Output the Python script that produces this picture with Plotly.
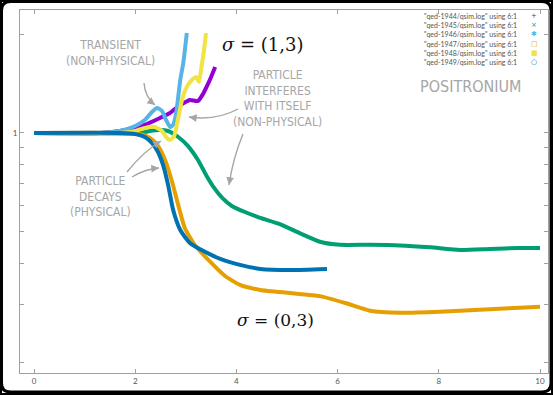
import math
import plotly.graph_objects as go

# ---------------- data ----------------
series_names = ['"qed-1944/qsim.log" using 6:1', '"qed-1945/qsim.log" using 6:1',
                '"qed-1946/qsim.log" using 6:1', '"qed-1947/qsim.log" using 6:1',
                '"qed-1948/qsim.log" using 6:1', '"qed-1949/qsim.log" using 6:1']
series_colors = ["#9400d3", "#009e73", "#56b4e9", "#e69f00", "#f0e442", "#0072b2"]
legend_symbols = ["+", "×", "✱", "□", "■", "○"]

x1944 = [0, 1.30, 1.70, 1.96, 2.23, 2.49, 2.69, 2.83, 2.96, 3.08, 3.24, 3.34, 3.42, 3.50, 3.58]
y1944 = [1, 1, 1.014, 1.036, 1.065, 1.111, 1.151, 1.200, 1.234, 1.261, 1.252, 1.315, 1.391, 1.482, 1.589]

x1945 = [0, 2.09, 2.29, 2.49, 2.65, 2.85, 3.04, 3.24, 3.40, 3.56, 3.72, 3.91, 4.17, 4.47, 4.86,
         5.26, 5.65, 6.05, 6.64, 7.23, 7.83, 8.42, 9.01, 9.60, 10.0]
y1945 = [1, 1, 1.014, 1.021, 1.014, 0.972, 0.913, 0.827, 0.745, 0.680, 0.634, 0.599, 0.574, 0.551, 0.527,
         0.494, 0.466, 0.456, 0.456, 0.454, 0.448, 0.440, 0.443, 0.446, 0.446]

x1946 = [0, 1.30, 1.70, 2.00, 2.19, 2.33, 2.43, 2.53, 2.61, 2.69, 2.75, 2.81, 2.89, 2.95, 3.02]
y1946 = [1, 1, 1.014, 1.050, 1.095, 1.159, 1.192, 1.167, 1.095, 1.043, 1.058, 1.151, 1.451, 1.634, 2.018]

x1947 = [0, 1.70, 2.09, 2.29, 2.45, 2.59, 2.73, 2.85, 2.98, 3.18, 3.48, 3.77, 4.07, 4.47, 5.06,
         5.65, 6.15, 6.64, 7.23, 8.02, 8.81, 9.60, 10.0]
y1947 = [1, 1, 0.993, 0.965, 0.913, 0.827, 0.709, 0.603, 0.513, 0.455, 0.405, 0.367, 0.344, 0.332, 0.325,
         0.318, 0.303, 0.287, 0.283, 0.285, 0.289, 0.293, 0.295]

x1948 = [0, 1.70, 2.00, 2.19, 2.39, 2.53, 2.61, 2.69, 2.77, 2.85, 2.94, 3.04, 3.14, 3.20, 3.26, 3.30, 3.36, 3.40]
y1948 = [1, 1, 1.014, 1.036, 1.043, 1.014, 0.972, 0.952, 0.979, 1.111, 1.288, 1.400, 1.461, 1.482, 1.431,
         1.556, 1.791, 2.016]

x1949 = [0, 1.70, 2.00, 2.19, 2.33, 2.45, 2.55, 2.65, 2.75, 2.89, 3.08, 3.38, 3.68, 4.07, 4.47, 5.06, 5.79]
y1949 = [1, 1, 0.993, 0.972, 0.932, 0.875, 0.799, 0.694, 0.582, 0.506, 0.462, 0.434, 0.413, 0.396, 0.385,
         0.382, 0.385]

xs = [x1944, x1945, x1946, x1947, x1948, x1949]
ys = [y1944, y1945, y1946, y1947, y1948, y1949]

x_ticks = [0, 2, 4, 6, 8, 10]
y_ticks = [0.2, 0.3, 0.4, 0.5, 0.6, 0.7, 0.8, 0.9, 1, 2]
y_ticktext = ["", "", "", "", "", "", "", "", "1", ""]

# ---------------- layout helpers ----------------
W, H = 553, 395
L, R, T, B = 20, 5, 10, 22
PW, PH = W - L - R, H - T - B


def px(x):
    return (x - L) / PW


def py(y):
    return (H - B - y) / PH


fig = go.Figure()
for xv, yv, c, n in zip(xs, ys, series_colors, series_names):
    fig.add_trace(go.Scatter(x=xv, y=yv, mode="lines", name=n,
                             line=dict(color=c, width=4, shape="spline", smoothing=0.55),
                             showlegend=False, hoverinfo="skip"))

gray = "#a6a6a6"
hand = "Liberation Sans Narrow, DejaVu Sans Condensed, Arial Narrow, sans-serif"
ann = []
shapes = []

# legend (gnuplot style: text right-aligned, symbol right)
leg_y = [16, 25.3, 34.5, 44, 53.3, 62.5]
for n, s, c, yy in zip(series_names, legend_symbols, series_colors, leg_y):
    ann.append(dict(xref="paper", yref="paper", x=px(519), y=py(yy), text=n, showarrow=False,
                    xanchor="right", yanchor="middle", font=dict(size=7, color="#555555", family="Lato, sans-serif")))
    ann.append(dict(xref="paper", yref="paper", x=px(534), y=py(yy), text=s, showarrow=False,
                    xanchor="center", yanchor="middle", font=dict(size=7, color=c, family="DejaVu Sans")))

# hand-written labels
labels = [
    ("TRANSIENT<br>(NON-PHYSICAL)", 110, 53, 12),
    ("PARTICLE<br>INTERFERES<br>WITH ITSELF<br>(NON-PHYSICAL)", 277, 98, 12),
    ("PARTICLE<br>DECAYS<br>(PHYSICAL)", 100, 196, 12),
    ("POSITRONIUM", 470, 86, 16),
]
for t, xx, yy, fs in labels:
    ann.append(dict(xref="paper", yref="paper", x=px(xx), y=py(yy), text=t, showarrow=False,
                    xanchor="center", yanchor="middle", align="center",
                    font=dict(size=fs, color=gray, family=hand)))

# sigma labels
ann.append(dict(xref="paper", yref="paper", x=px(263), y=py(45), text="<i>σ</i> = (1,3)", showarrow=False,
                xanchor="center", yanchor="middle", font=dict(size=18, color="#111", family="DejaVu Serif, serif")))
ann.append(dict(xref="paper", yref="paper", x=px(275), y=py(320), text="<i>σ</i> = (0,3)", showarrow=False,
                xanchor="center", yanchor="middle", font=dict(size=17, color="#111", family="DejaVu Serif, serif")))

# curved arrows: (start, control, end) in pixels
arrows = [((144, 83), (145, 97), (155, 105)),
          ((238, 109), (216, 121), (189, 117)),
          ((243, 134), (233, 158), (229, 185)),
          ((127, 172), (144, 151), (161, 141)),
          ((132, 177), (145, 169), (159, 168))]
for (sx, sy), (cx, cy), (ex, ey) in arrows:
    shapes.append(dict(type="path", xref="paper", yref="paper",
                       path=f"M {px(sx)} {py(sy)} Q {px(cx)} {py(cy)} {px(ex)} {py(ey)}",
                       line=dict(color=gray, width=1.4)))
    dx, dy = ex - cx, ey - cy
    d = math.hypot(dx, dy)
    ann.append(dict(xref="paper", yref="paper", x=px(ex), y=py(ey),
                    ax=-dx / d * 5, ay=-dy / d * 5, axref="pixel", ayref="pixel", text="",
                    showarrow=True, arrowhead=2, arrowsize=1.1, arrowwidth=1.4, arrowcolor=gray))


# rounded black frame
def frame_path(x0, y0, x1, y1, r):
    return (f"M {px(x0 + r)} {py(y0)} L {px(x1 - r)} {py(y0)} Q {px(x1)} {py(y0)} {px(x1)} {py(y0 + r)} "
            f"L {px(x1)} {py(y1 - r)} Q {px(x1)} {py(y1)} {px(x1 - r)} {py(y1)} "
            f"L {px(x0 + r)} {py(y1)} Q {px(x0)} {py(y1)} {px(x0)} {py(y1 - r)} "
            f"L {px(x0)} {py(y0 + r)} Q {px(x0)} {py(y0)} {px(x0 + r)} {py(y0)} Z")


shapes += [dict(type="path", xref="paper", yref="paper", path=frame_path(-2, -2, W + 2, H + 2, 4),
                line=dict(color="black", width=8), layer="above"),
           dict(type="path", xref="paper", yref="paper", path=frame_path(1.5, 1.5, W - 2, H - 3, 9),
                line=dict(color="black", width=3), layer="above")]

axis_common = dict(showline=True, linecolor="#a0a0a0", linewidth=1, mirror="ticks", ticks="inside",
                   ticklen=4, tickcolor="#a0a0a0", showgrid=False, zeroline=False,
                   tickfont=dict(size=8, color="#555555", family="Lato, sans-serif"))

fig.update_layout(
    width=W, height=H, autosize=False,
    margin=dict(l=L, r=R, t=T, b=B),
    paper_bgcolor="white", plot_bgcolor="white",
    xaxis=dict(range=[-0.277, 10.158], tickvals=x_ticks, **axis_common),
    yaxis=dict(type="log", range=[-0.732, 0.375], tickvals=y_ticks, ticktext=y_ticktext, **axis_common),
    annotations=ann, shapes=shapes, showlegend=False,
)

fig.write_html("out.html", config={"displayModeBar": False},
               post_script="document.body.style.margin='0';document.body.style.overflow='hidden';")
